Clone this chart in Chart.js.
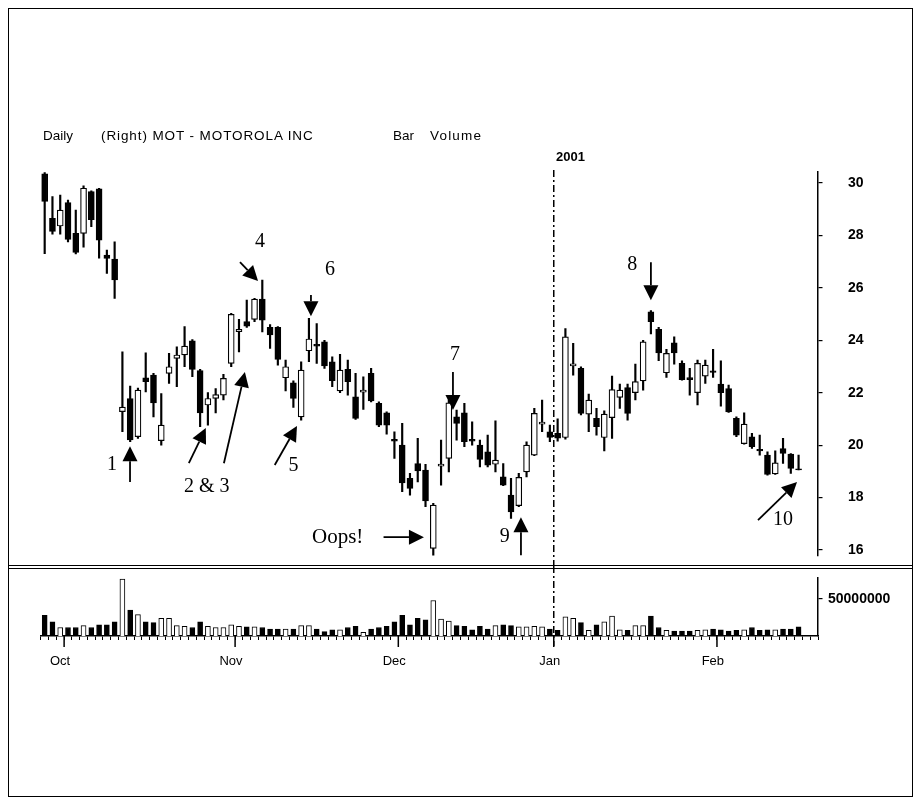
<!DOCTYPE html>
<html>
<head>
<meta charset="utf-8">
<script src="https://cdn.jsdelivr.net/npm/chart.js@4.4.0/dist/chart.umd.min.js"></script>
<style>
html, body { margin: 0; padding: 0; background: #fff; }
#wrap { position: relative; width: 921px; height: 806px; overflow: hidden; font-family: "Liberation Sans", Arial, sans-serif; color: #000; }
#frame { position: absolute; left: 8px; top: 8px; width: 903px; height: 787px; border: 1.5px solid #000; }
#sep { position: absolute; left: 8px; top: 565px; width: 905px; height: 2px; border-top: 1.5px solid #000; border-bottom: 1.5px solid #000; }
canvas { position: absolute; left: 0; }
.hdr { position: absolute; font-size: 13.5px; line-height: 14px; white-space: nowrap; }
</style>
</head>
<body>
<div id="wrap">
 <canvas id="price" width="921" height="566" style="top:0;width:921px;height:566px"></canvas>
 <canvas id="vol" width="921" height="240" style="top:566px;width:921px;height:240px"></canvas>
 <div id="frame"></div>
 <div id="sep"></div>
 <div class="hdr" style="left:43px;top:129px">Daily</div>
 <div class="hdr" style="left:101px;top:129px;letter-spacing:0.9px">(Right) MOT - MOTOROLA INC</div>
 <div class="hdr" style="left:393px;top:129px">Bar</div>
 <div class="hdr" style="left:430px;top:129px;letter-spacing:1.2px">Volume</div>
 <div class="hdr" style="left:556px;top:150px;font-weight:bold;font-size:13px">2001</div>
</div>
<script>
// daily bars, 27 Sep 2000 .. 15 Feb 2001 (98 trading days)
const openP = [30.35, 28.65, 28.36, 29.25, 28.08, 28.08, 29.67, 29.78, 27.25, 27.1,
 21.28, 21.78, 20.32, 22.57, 22.67, 20.17, 22.74, 23.31, 23.44, 23.98,
 22.84, 21.53, 21.78, 21.91, 23.12, 24.33, 24.71, 24.8, 25.57, 24.49,
 24.49, 22.57, 22.38, 21.08, 23.6, 23.85, 23.94, 23.18, 22.07, 22.89,
 21.84, 22.02, 22.74, 21.59, 21.23, 20.22, 20.0, 18.73, 19.3, 19.05,
 16.06, 19.2, 19.49, 21.08, 21.23, 20.22, 20.0, 19.74, 19.27, 18.79,
 18.09, 17.69, 18.98, 19.62, 20.8, 20.51, 20.45, 20.29, 23.02, 22.93,
 21.18, 21.02, 20.29, 21.05, 21.82, 22.2, 22.0, 22.45, 25.09, 24.42,
 22.76, 23.9, 23.12, 22.58, 22.0, 22.63, 22.83, 22.33, 22.16, 21.02,
 20.06, 20.32, 19.84, 19.62, 18.9, 19.87, 19.66, 19.1];
const highP = [30.4, 29.48, 29.54, 29.35, 28.97, 29.89, 29.7, 29.8, 27.44, 27.76,
 23.56, 22.25, 22.18, 23.52, 22.74, 21.97, 23.5, 23.75, 24.52, 24.03,
 22.89, 22.0, 22.16, 22.7, 25.03, 24.8, 25.53, 25.6, 26.3, 24.6,
 24.52, 23.24, 22.45, 23.18, 24.84, 24.64, 24.0, 23.37, 23.46, 23.24,
 22.74, 22.61, 22.93, 21.65, 21.27, 20.51, 20.83, 18.92, 20.26, 19.27,
 17.78, 20.19, 21.72, 21.34, 21.59, 20.89, 20.19, 20.38, 20.93, 19.3,
 18.73, 18.92, 20.13, 21.4, 21.72, 20.76, 21.0, 24.45, 23.88, 22.99,
 21.95, 21.4, 21.31, 22.63, 22.33, 22.33, 23.09, 24.0, 25.13, 24.49,
 23.65, 24.13, 23.22, 22.93, 23.24, 23.24, 23.65, 23.22, 22.29, 21.08,
 21.23, 20.45, 20.38, 19.74, 19.78, 20.26, 19.68, 19.62];
const lowP = [27.3, 28.05, 28.05, 27.75, 27.29, 27.55, 28.33, 27.13, 26.55, 25.6,
 20.51, 20.13, 20.26, 22.03, 21.08, 20.0, 22.35, 22.23, 22.99, 22.61,
 20.7, 20.76, 21.23, 21.72, 22.99, 23.56, 24.49, 24.71, 24.32, 23.69,
 23.05, 22.07, 21.44, 20.95, 23.18, 23.12, 22.93, 22.23, 22.0, 21.91,
 20.98, 21.36, 21.65, 20.7, 20.42, 19.49, 18.22, 18.09, 18.6, 17.65,
 15.8, 18.47, 18.98, 20.19, 19.94, 20.0, 19.17, 19.17, 18.98, 18.45,
 17.2, 17.65, 18.79, 19.6, 20.51, 20.13, 20.15, 20.23, 22.67, 21.15,
 20.51, 20.38, 19.78, 20.26, 21.4, 20.95, 21.72, 22.1, 24.24, 23.22,
 22.58, 23.09, 22.48, 21.91, 21.53, 22.35, 22.58, 21.49, 21.25, 20.32,
 20.04, 19.87, 19.62, 18.85, 18.88, 19.3, 18.92, 19.05];
const closeP = [29.3, 28.15, 28.97, 27.85, 27.35, 29.8, 28.6, 27.82, 27.12, 26.3,
 21.45, 20.2, 22.1, 22.42, 21.61, 20.76, 22.99, 23.44, 23.78, 22.89,
 21.23, 21.78, 21.93, 22.55, 24.99, 24.42, 24.54, 25.57, 24.77, 24.2,
 23.27, 22.99, 21.78, 22.86, 24.05, 23.78, 23.02, 22.46, 22.86, 22.42,
 21.02, 22.1, 21.69, 20.76, 20.76, 20.15, 18.56, 18.35, 19.02, 17.87,
 17.71, 19.28, 21.61, 20.83, 20.13, 20.15, 19.45, 19.24, 19.43, 18.47,
 17.45, 18.77, 20.0, 21.21, 20.88, 20.29, 20.27, 24.13, 23.1, 21.21,
 21.72, 20.7, 21.18, 22.12, 22.1, 21.21, 22.42, 23.94, 24.71, 23.52,
 23.5, 23.52, 22.5, 22.5, 23.12, 23.05, 22.77, 22.0, 21.27, 20.38,
 20.8, 19.94, 19.78, 18.88, 19.32, 19.68, 19.11, 19.05];
// volume, millions of shares
const volumeM = [28, 19, 11.5, 11.5, 11.5, 14, 11.5, 15, 15, 19,
 77, 35, 29, 19, 18, 24, 24, 14, 13, 11.5,
 19, 13, 11.5, 11.5, 15, 13, 12.5, 12.5, 11.5, 9.5,
 9.5, 9.5, 9.5, 14, 14, 9.5, 6, 8.5, 8.5, 11.5,
 13, 5, 9.5, 11.5, 13, 19, 28, 15, 24, 22,
 48, 23, 20, 14, 13, 8.5, 13, 9.5, 14, 15,
 14, 12.5, 12.5, 13, 12.5, 9.5, 7.5, 26, 24, 18,
 7.5, 15, 19, 27, 8.5, 7.5, 14, 14, 27, 11.5,
 7.5, 6.5, 6.5, 6.5, 7.5, 8.5, 9.5, 8.5, 6.5, 7.5,
 8.5, 11.5, 7.5, 8.5, 8.5, 9.5, 9.5, 12.5];

const monthNames = ['Oct', 'Nov', 'Dec', 'Jan', 'Feb'];
const monthStart = [3, 25, 46, 66, 87];
const priceTicks = [16, 18, 20, 22, 24, 26, 28, 30];
const volTicks = [50000000];
const SLOTS = 100;

// annotations: [bar index, price]
const noteText = ['1', '2 & 3', '4', '5', '6', '7', '8', '9', '10', 'Oops!'];
const noteAt = [[8.67, 19.24], [20.86, 18.4], [27.7, 27.75], [32.0, 19.2], [36.7, 26.68],
 [52.8, 23.44], [75.6, 26.9], [59.2, 16.49], [95.0, 17.14], [37.7, 16.49]];
const arrowFrom = [[10.98, 18.59], [18.55, 19.31], [23.06, 19.31], [25.13, 26.98], [29.6, 19.24],
 [34.26, 25.73], [52.53, 22.79], [78.0, 26.98], [61.28, 15.8], [91.78, 17.14], [43.6, 16.49]];
const arrowTo = [[10.98, 19.96], [20.73, 20.65], [25.76, 22.79], [27.45, 26.26], [32.46, 20.73],
 [34.26, 24.92], [52.53, 21.34], [78.0, 25.53], [61.28, 17.25], [96.8, 18.59], [48.8, 16.49]];

const labels = Array.from({ length: SLOTS }, (_, i) => i);
const isUp = closeP.map((c, i) => c >= openP[i]);
const FONT = '"Liberation Sans", Arial, sans-serif';

function janLine(topPad, bottomExtra) {
 return {
 id: 'janLine',
 afterDatasetsDraw(chart) {
 const x = chart.scales.x;
 const px = (x.getPixelForValue(monthStart[3] - 1) + x.getPixelForValue(monthStart[3])) / 2;
 const ctx = chart.ctx;
 ctx.save();
 ctx.strokeStyle = '#000';
 ctx.lineWidth = 1.5;
 ctx.setLineDash([7, 3, 2, 3]);
 ctx.beginPath();
 ctx.moveTo(px, chart.chartArea.top - topPad);
 ctx.lineTo(px, chart.chartArea.bottom + bottomExtra);
 ctx.stroke();
 ctx.restore();
 }
 };
}

const notes = {
 id: 'notes',
 afterDatasetsDraw(chart) {
 const { ctx, scales: { x, y } } = chart;
 const P = ([i, p]) => [x.getPixelForValue(i), y.getPixelForValue(p)];
 ctx.save();
 ctx.fillStyle = '#000';
 ctx.strokeStyle = '#000';
 arrowFrom.forEach((from, k) => {
 const [x1, y1] = P(from), [x2, y2] = P(arrowTo[k]);
 const len = Math.hypot(x2 - x1, y2 - y1), ux = (x2 - x1) / len, uy = (y2 - y1) / len;
 const hl = 15, hw = 7.5;
 ctx.lineWidth = 1.8;
 ctx.beginPath();
 ctx.moveTo(x1, y1);
 ctx.lineTo(x2 - ux * hl, y2 - uy * hl);
 ctx.stroke();
 ctx.beginPath();
 ctx.moveTo(x2, y2);
 ctx.lineTo(x2 - ux * hl - uy * hw, y2 - uy * hl + ux * hw);
 ctx.lineTo(x2 - ux * hl + uy * hw, y2 - uy * hl - ux * hw);
 ctx.closePath();
 ctx.fill();
 });
 ctx.textAlign = 'center';
 ctx.textBaseline = 'middle';
 noteText.forEach((t, k) => {
 const [tx, ty] = P(noteAt[k]);
 ctx.font = (t === 'Oops!' ? '21px' : '20px') + ' "Liberation Serif", "Times New Roman", serif';
 ctx.fillText(t, tx, ty);
 });
 ctx.restore();
 }
};

const monthTicks = {
 id: 'monthTicks',
 afterDraw(chart) {
 const { ctx, scales: { x } } = chart;
 ctx.save();
 ctx.strokeStyle = '#000';
 ctx.lineWidth = 1.5;
 monthStart.forEach(i => {
 const px = (x.getPixelForValue(i - 1) + x.getPixelForValue(i)) / 2;
 ctx.beginPath();
 ctx.moveTo(px, chart.chartArea.bottom);
 ctx.lineTo(px, chart.chartArea.bottom + 11);
 ctx.stroke();
 });
 ctx.restore();
 }
};

// right-hand value axis: long invisible tick gap instead of label padding,
// so the label padding does not eat into the plot height
function rightAxis(gap) {
 return {
 position: 'right',
 afterFit: s => { s.width = 103; },
 grid: { drawOnChartArea: false, tickLength: gap, color: '#000', lineWidth: 1.2, tickBorderDash: [4, 200] },
 border: { display: true, color: '#000', width: 1.5 },
 ticks: { padding: 0, color: '#000', font: { family: FONT, size: 14, weight: 'bold' } },
 };
}

new Chart(document.getElementById('price'), {
 type: 'bar',
 data: {
 labels,
 datasets: [
 {
 data: lowP.map((l, i) => [l, highP[i]]),
 backgroundColor: '#000',
 barThickness: 1.5,
 grouped: false,
 order: 2,
 },
 {
 data: openP.map((o, i) => [o, closeP[i]]),
 backgroundColor: isUp.map(u => u ? '#fff' : '#000'),
 borderColor: '#000',
 borderWidth: 1.2,
 borderSkipped: false,
 barThickness: 6,
 grouped: false,
 order: 1,
 },
 ],
 },
 options: {
 responsive: false,
 maintainAspectRatio: false,
 animation: false,
 events: [],
 layout: { padding: { left: 40.8, top: 172, bottom: 10, right: 0 } },
 plugins: { legend: { display: false }, tooltip: { enabled: false } },
 scales: {
 x: { display: false, offset: true },
 y: {
 ...rightAxis(30),
 min: 15.77,
 max: 30.42,
 afterBuildTicks: s => { s.ticks = priceTicks.map(v => ({ value: v })); },
 },
 },
 },
 plugins: [janLine(2, 12), notes],
});

const volY = rightAxis(10);
volY.ticks.callback = v => String(v);

new Chart(document.getElementById('vol'), {
 type: 'bar',
 data: {
 labels,
 datasets: [{
 data: volumeM.map(v => v * 1e6),
 backgroundColor: isUp.map(u => u ? '#fff' : '#000'),
 borderColor: '#000',
 borderWidth: 1,
 borderSkipped: 'start',
 barThickness: 5,
 }],
 },
 options: {
 responsive: false,
 maintainAspectRatio: false,
 animation: false,
 events: [],
 layout: { padding: { left: 40.8, top: 12, bottom: 0, right: 0 } },
 plugins: { legend: { display: false }, tooltip: { enabled: false } },
 scales: {
 x: {
 offset: true,
 afterFit: s => { s.height = 170; },
 grid: { offset: true, drawOnChartArea: false, tickLength: 4, color: '#000', lineWidth: 1 },
 border: { display: true, color: '#000', width: 1.5 },
 ticks: {
 autoSkip: false, maxRotation: 0, padding: 14, labelOffset: -8, color: '#000',
 font: { family: FONT, size: 13 },
 callback: (v, i) => { const k = monthStart.indexOf(i); return k < 0 ? '' : monthNames[k]; },
 },
 },
 y: {
 ...volY,
 min: 0,
 max: 78.4e6,
 afterBuildTicks: s => { s.ticks = volTicks.map(v => ({ value: v })); },
 },
 },
 },
 plugins: [janLine(12, 10), monthTicks],
});
</script>
</body>
</html>
